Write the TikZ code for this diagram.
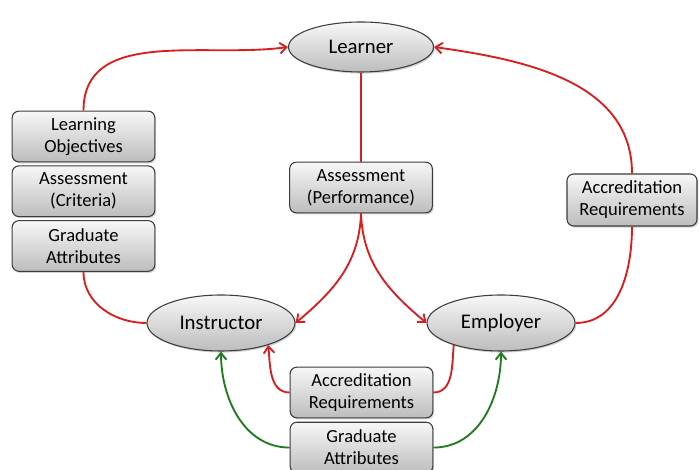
\documentclass[tikz,border=0pt]{standalone}
\usepackage{fontspec}
\setmainfont{Carlito}
\usetikzlibrary{shapes.geometric, arrows.meta, positioning, shadows}
\definecolor{linkred}{RGB}{218,30,30}
\definecolor{linkgreen}{RGB}{30,125,30}
\definecolor{boxedge}{RGB}{60,60,60}
\tikzset{
  base/.style={draw=boxedge, line width=0.8pt, top color=gray!6, bottom color=gray!52,
    drop shadow={shadow xshift=1pt, shadow yshift=-1.2pt, opacity=0.35}, align=center},
  actor/.style={base, ellipse, inner sep=0pt, font=\fontsize{15.6}{18}\selectfont},
  item/.style={base, rectangle, rounded corners=5pt, minimum width=107pt,
    minimum height=38pt, inner sep=2pt, font=\fontsize{13.9}{16.5}\selectfont},
  redlink/.style={line width=1.4pt, color=linkred},
  redarrow/.style={redlink, -{Straight Barb[length=5pt, width=8pt]}},
  greenarrow/.style={line width=1.4pt, color=linkgreen, -{Straight Barb[length=5pt, width=8pt]}},
}

\begin{document}
\begin{tikzpicture}[x=0.75pt, y=0.75pt]
  \useasboundingbox (0,0) rectangle (699,470);
  % actors
  \node[actor, minimum width=108.75pt, minimum height=37.5pt] (learner) at (361,423) {Learner};
  \node[actor, minimum width=111pt, minimum height=42pt] (instructor) at (221,147) {Instructor};
  \node[actor, minimum width=111pt, minimum height=42pt] (employer) at (501,147) {Employer};
  % left stack
  \node[item] (lobj) at (83.5,333.5) {Learning\\Objectives};
  \node[item, below=2.25pt of lobj] (acrit) {Assessment\\(Criteria)};
  \node[item, below=2.25pt of acrit] (gattr) {Graduate\\Attributes};
  % middle and right
  \node[item] (aperf) at (361,282.5) {Assessment\\(Performance)};
  \node[item, minimum width=97.5pt, minimum height=39pt] (accright) at (632,270) {Accreditation\\Requirements};
  % bottom stack
  \node[item] (accbot) at (361.5,77.5) {Accreditation\\Requirements};
  \node[item, below=2.5pt of accbot] (gabot) {Graduate\\Attributes};

  \draw[redarrow] (lobj.north) to[out=90, in=188] (learner.west);
  \draw[redlink] (learner) -- (aperf);
  \draw[redarrow] (aperf.south) to[out=-92, in=40] (instructor.east);
  \draw[redarrow] (aperf.south) to[out=-88, in=140] (employer.west);
  \draw[redlink] (gattr.south) to[out=-90, in=180] (instructor.west);
  \draw[redarrow] (accright.north) to[out=90, in=-8] (learner.east);
  \draw[redlink] (accright.south) to[out=-90, in=0] (employer.east);
  \draw[redarrow] (accbot.west) to[out=180, in=-85] (instructor.-25);
  \draw[redlink] (accbot.east) to[out=0, in=-95] (employer.-155);
  \draw[greenarrow] (gabot.west) to[out=180, in=-90] (instructor.south);
  \draw[greenarrow] (gabot.east) to[out=0, in=-90] (employer.south);
\end{tikzpicture}
\end{document}
